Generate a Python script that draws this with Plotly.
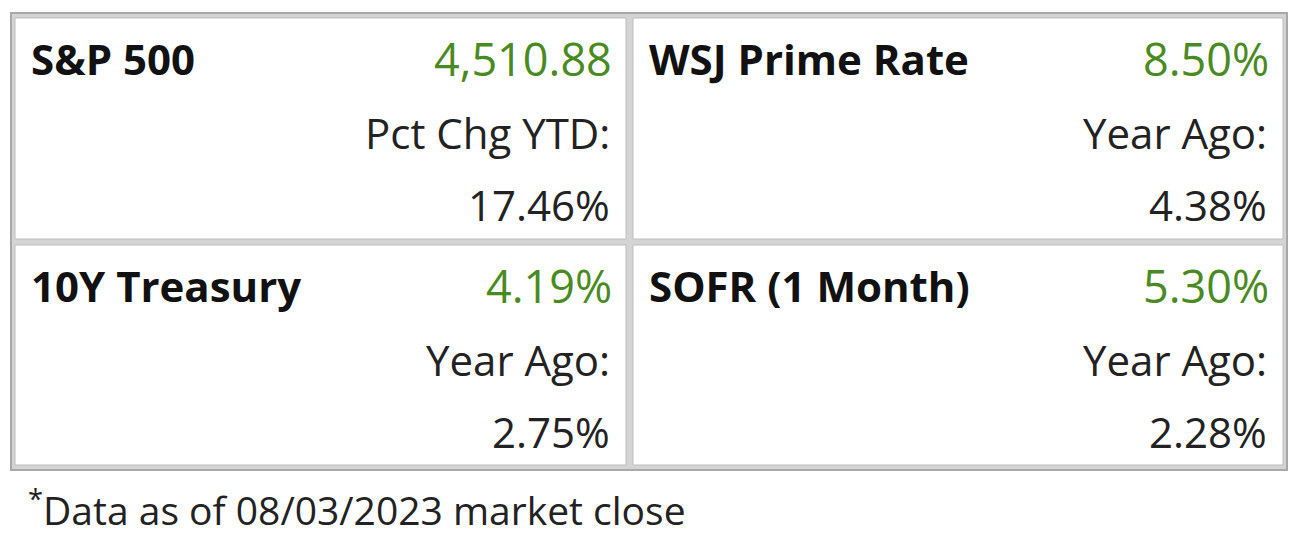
import plotly.graph_objects as go

# data
titles = ["S&P 500", "WSJ Prime Rate", "10Y Treasury", "SOFR (1 Month)"]
values = ["4,510.88", "8.50%", "4.19%", "5.30%"]
labels = ["Pct Chg YTD:", "Year Ago:", "Year Ago:", "Year Ago:"]
prior = ["17.46%", "4.38%", "2.75%", "2.28%"]
note = "Data as of 08/03/2023 market close"

# cell boxes: (x0, x1, y0, y1) in pixels
cells = [(15, 626, 18, 239), (633, 1283, 18, 239),
         (15, 626, 245, 465), (633, 1283, 245, 465)]

FONT = "Open Sans"
OFF = 8  # page body margin
fig = go.Figure()
shapes = [dict(type="rect", x0=11, x1=1287, y0=13, y1=470,
               line=dict(color="#a8a8a8", width=2), fillcolor="#d4d4d4", layer="below")]
ann = []
for i, (x0, x1, y0, y1) in enumerate(cells):
    shapes.append(dict(type="rect", x0=x0, x1=x1, y0=y0, y1=y1,
                       line=dict(color="#bdbdbd", width=1), fillcolor="white", layer="below"))
    ann.append(dict(x=x0 + 14, y=y0 + 40, text="<b>" + titles[i] + "</b>", xanchor="left",
                    font=dict(size=42, color="#111111", family=FONT)))
    ann.append(dict(x=x1 - 12, y=y0 + 40, text=values[i], xanchor="right",
                    font=dict(size=45, color="#4a8a22", family=FONT)))
    ann.append(dict(x=x1 - 14, y=y0 + 114, text=labels[i], xanchor="right",
                    font=dict(size=42, color="#222222", family=FONT)))
    ann.append(dict(x=x1 - 14, y=y0 + 186, text=prior[i], xanchor="right",
                    font=dict(size=42, color="#222222", family=FONT)))
ann.append(dict(x=26, y=508, text="<sup>*</sup>" + note, xanchor="left",
                font=dict(size=39, color="#222222", family=FONT)))
for a in ann:
    a.update(xref="x", yref="y", showarrow=False, yanchor="middle")

fig.update_layout(
    width=1300, height=540, margin=dict(l=0, r=0, t=0, b=0),
    paper_bgcolor="white", plot_bgcolor="white",
    xaxis=dict(range=[OFF, 1300 + OFF], visible=False, fixedrange=True),
    yaxis=dict(range=[540 + OFF, OFF], visible=False, fixedrange=True),
    shapes=shapes, annotations=ann, showlegend=False,
)
fig.write_html("out.html")
